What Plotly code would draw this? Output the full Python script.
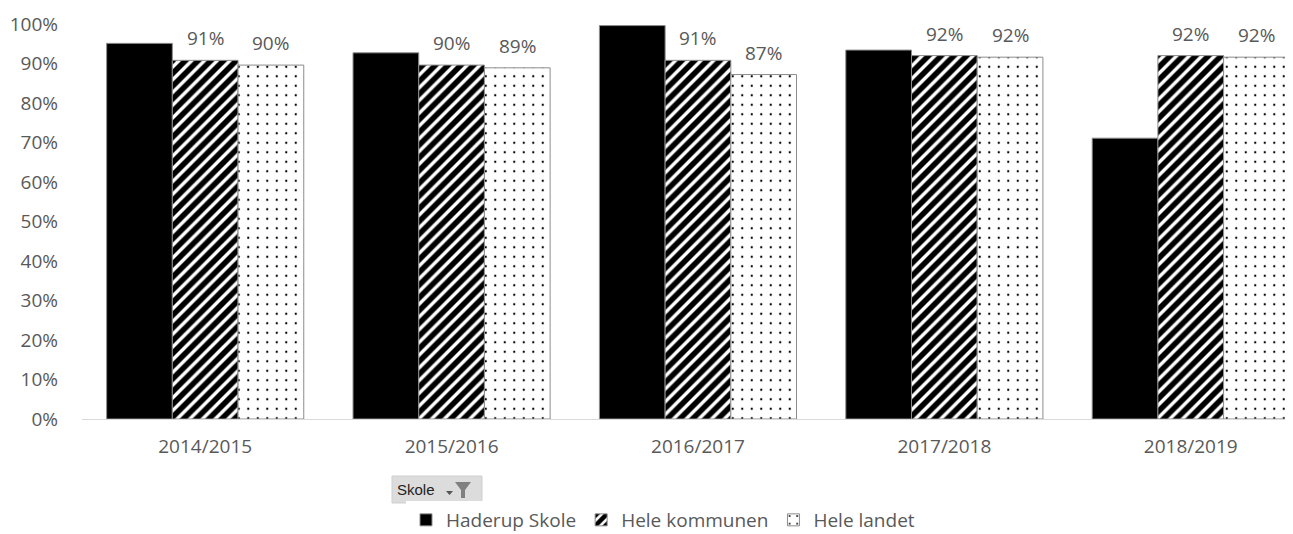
import plotly.graph_objects as go

categories = ["2014/2015", "2015/2016", "2016/2017", "2017/2018", "2018/2019"]
series_names = ["Haderup Skole", "Hele kommunen", "Hele landet"]
haderup = [0.951, 0.927, 0.996, 0.934, 0.711]
kommunen = [0.908, 0.896, 0.908, 0.920, 0.920]
landet = [0.896, 0.889, 0.872, 0.916, 0.916]
y_tick_values = [0, 0.1, 0.2, 0.3, 0.4, 0.5, 0.6, 0.7, 0.8, 0.9, 1.0]
filter_label = "Skole"

# the page body has an 8px margin; work in page coordinates and convert
OFF = 8
W, H = 1293 - OFF, 534
PLOT_LEFT, PLOT_TOP, PLOT_BOTTOM = 82, 24, 419      # page coordinates
L, T = PLOT_LEFT - OFF, PLOT_TOP - OFF
R, B = 0, H - (PLOT_BOTTOM - OFF)
PW, PH = W - L - R, H - T - B
X_RANGE = [-0.5, 4.415]


def px(x_page):
    return (x_page - OFF - L) / PW


def py(y_page):
    return (H - B - (y_page - OFF)) / PH


GRAY = "#595959"
FONT = "Open Sans"
FS = 19
OUTLINE = dict(color="#8c8c8c", width=1)

fig = go.Figure()
fig.add_trace(go.Bar(
    name=series_names[0], x=categories, y=haderup,
    marker=dict(color="black", line=OUTLINE),
))
fig.add_trace(go.Bar(
    name=series_names[1], x=categories, y=kommunen,
    marker=dict(color="white", line=OUTLINE,
                pattern=dict(shape="/", fgcolor="#000000", bgcolor="#ffffff",
                             fgopacity=1, size=9, solidity=0.62)),
))
fig.add_trace(go.Bar(
    name=series_names[2], x=categories, y=landet,
    marker=dict(color="white", line=OUTLINE,
                pattern=dict(shape=".", fgcolor="#000000", bgcolor="#ffffff",
                             fgopacity=1, size=9.5, solidity=0.045)),
))

# data labels for the two comparison series (placed through the axes' own scales)
cat_px = PW / (X_RANGE[1] - X_RANGE[0])
bar_px = cat_px * 0.8 / 3
annotations = []
for series, shift in ((kommunen, 0.0), (landet, bar_px)):
    for cat, val in zip(categories, series):
        annotations.append(dict(
            x=cat, y=val, xref="x", yref="y", text=f"{val:.0%}",
            showarrow=False, xshift=shift, yshift=22, yanchor="middle",
            font=dict(family=FONT, size=FS, color=GRAY)))

shapes = [
    dict(type="rect", xref="paper", yref="paper",
         x0=px(392), x1=px(482), y0=py(503), y1=py(476),
         fillcolor="#dcdcdc", line=dict(color="#cfcfcf", width=1)),
    dict(type="path", xref="paper", yref="paper",
         path=f"M {px(446)} {py(491)} L {px(453)} {py(491)} L {px(449.5)} {py(495)} Z",
         fillcolor="#555555", line=dict(width=0)),
    dict(type="path", xref="paper", yref="paper",
         path=(f"M {px(455)} {py(482)} L {px(471)} {py(482)} L {px(465)} {py(490)} "
               f"L {px(465)} {py(498)} L {px(461)} {py(498)} L {px(461)} {py(490)} Z"),
         fillcolor="#808080", line=dict(width=0)),
]

annotations.append(dict(
    text=filter_label, xref="paper", yref="paper", x=px(395), y=py(489.5),
    xanchor="left", yanchor="middle", showarrow=False,
    font=dict(family="Liberation Sans", size=15, color="#222222")))

fig.update_layout(
    width=W, height=H,
    margin=dict(l=L, r=R, t=T, b=B, pad=0, autoexpand=False),
    paper_bgcolor="white", plot_bgcolor="white",
    barmode="group", bargap=0.2, bargroupgap=0,
    font=dict(family=FONT, color=GRAY, size=FS),
    showlegend=True,
    legend=dict(orientation="h", x=px(406), y=py(520), xanchor="left", yanchor="middle",
                font=dict(family=FONT, size=FS, color=GRAY),
                traceorder="normal", itemwidth=30),
    xaxis=dict(range=X_RANGE, showline=True, linecolor="#d9d9d9", linewidth=1,
               ticks="", showgrid=False, zeroline=False, automargin=False,
               tickfont=dict(family=FONT, size=FS, color=GRAY), ticklabelstandoff=10),
    yaxis=dict(range=[0, 1], tickvals=y_tick_values, tickformat=".0%",
               showgrid=False, showline=False, zeroline=False, ticks="", automargin=False,
               tickfont=dict(family=FONT, size=FS, color=GRAY), ticklabelstandoff=23),
    shapes=shapes, annotations=annotations,
)
fig.update_traces(cliponaxis=False)

fig.write_html("out.html")
